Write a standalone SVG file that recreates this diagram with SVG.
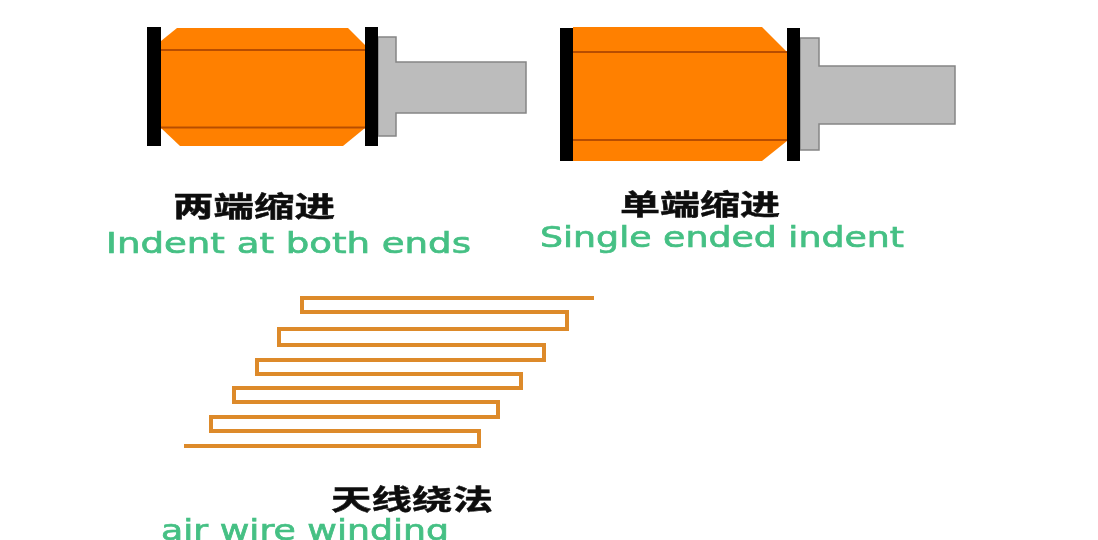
<svg xmlns="http://www.w3.org/2000/svg" width="1098" height="540" viewBox="0 0 1098 540">
<defs>
<filter id="soft" x="-5%" y="-5%" width="110%" height="110%"><feGaussianBlur stdDeviation="0.55"/></filter>
</defs>
<style>
.bar{fill:#050505}
.core{fill:#ff8000}
.seam{stroke:#b84e00;stroke-width:2;fill:none}
.shaft{fill:#bcbcbc;stroke:#858585;stroke-width:1.5}
.zh{font-family:"Noto Sans CJK SC","Liberation Sans",sans-serif;font-weight:700;font-size:28px;fill:#111;stroke:#111;stroke-width:.5}
.en{font-family:"DejaVu Sans","Liberation Sans",sans-serif;font-size:29px;fill:#45c084;stroke:#45c084;stroke-width:.7}
.wire{fill:none;stroke:#dd8a2c;stroke-width:4}
.soft{filter:url(#soft)}
</style>
<rect width="1098" height="540" fill="#fff"/>
<g id="indent-both" class="soft">
<path class="shaft" d="M378 37H396V62H526V113H396V136H378Z"/>
<path class="core" d="M161 41L177 28H348L365 45V128L343 146H180L161 128Z"/>
<path class="seam" d="M161 50H365M161 127.500H365"/>
<rect class="bar" x="147" y="27" width="14" height="119"/>
<rect class="bar" x="365" y="27" width="13" height="119"/>
</g>
<g id="indent-single" class="soft">
<path class="shaft" d="M800 38H819V66H955V124H819V150H800Z"/>
<path class="core" d="M573 27H762L787 52V141L762 161H573Z"/>
<path class="seam" d="M573 52H787M573 140H787"/>
<rect class="bar" x="560" y="28" width="13" height="133"/>
<rect class="bar" x="787" y="28" width="13" height="133"/>
</g>
<g id="air-winding" class="soft">
<path class="wire" d="M594 298H302V312H567V329H279V345H544V360H257V374H521V388H234V402H498V417H211V431H479V446H184"/>
</g>
<g id="labels" class="soft">
<text class="zh" x="173" y="217" textLength="162" lengthAdjust="spacingAndGlyphs">两端缩进</text>
<text class="en" x="106" y="253" textLength="365" lengthAdjust="spacingAndGlyphs">Indent at both ends</text>
<text class="zh" x="620" y="215" textLength="160" lengthAdjust="spacingAndGlyphs">单端缩进</text>
<text class="en" x="540" y="247" textLength="364" lengthAdjust="spacingAndGlyphs">Single ended indent</text>
<text class="zh" x="331" y="510" textLength="162" lengthAdjust="spacingAndGlyphs">天线绕法</text>
<text class="en" x="161" y="540" textLength="288" lengthAdjust="spacingAndGlyphs">air wire winding</text>
</g>
</svg>
